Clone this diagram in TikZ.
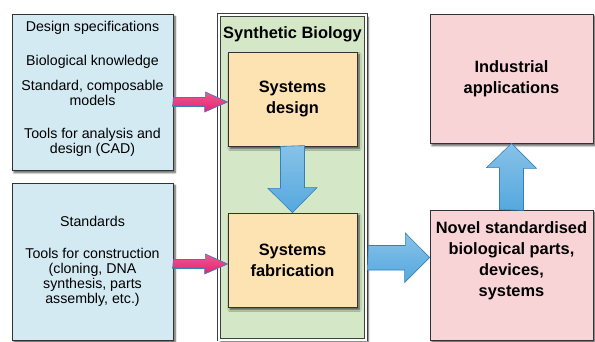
\documentclass[tikz,border=0pt]{standalone}
\usepackage{fontspec}
\setmainfont{Liberation Sans}
\usetikzlibrary{shadows.blur}

\definecolor{boxblue}{RGB}{211,234,243}
\definecolor{boxgreen}{RGB}{212,232,200}
\definecolor{boxyellow}{RGB}{253,226,178}
\definecolor{boxpink}{RGB}{249,212,214}
\definecolor{arrowblue}{RGB}{84,168,222}
\definecolor{arrowedge}{RGB}{52,128,190}
\definecolor{arrowpink}{RGB}{229,34,112}

\begin{document}
\begin{tikzpicture}[x=1pt, y=-1pt,
  every node/.style={font=\fontsize{14.2}{15}\selectfont, align=center, inner sep=0pt},
  box/.style={draw=black!80, line width=0.8pt,
    blur shadow={shadow xshift=2pt, shadow yshift=-2.5pt, shadow blur steps=6, shadow opacity=70}},
  boldtext/.style={font=\fontsize{16.4}{21}\selectfont\bfseries},
  bluearrow/.style={draw=arrowedge, line width=0.6pt, top color=arrowblue!70!white, bottom color=arrowblue},
  pinkarrow/.style={draw=arrowedge, line width=0.6pt, top color=arrowpink!75!white, bottom color=arrowpink}]
\useasboundingbox (0,0) rectangle (595,341);

% inputs on the left
\node (spec) [box, fill=boxblue, minimum width=161, minimum height=156] at (92.5,92) {};
\node (spectxt) at ([yshift=3pt]spec.center)
  {Design specifications\\[19pt]Biological knowledge\\[10pt]Standard, composable\\models\\[18pt]Tools for analysis and\\design (CAD)};
\node (tools) [box, fill=boxblue, minimum width=161, minimum height=157] at (92.5,261.5)
  {Standards\\[17pt]Tools for construction\\(cloning, DNA\\synthesis, parts\\assembly, etc.)};

% synthetic biology frame
\node (synbio) [box, fill=boxgreen, draw=black!75, line width=0.7pt, double=white, double distance=2pt,
  minimum width=147, minimum height=324.5] at (292.5,177.25) {};
\node (title) [boldtext] at (292.5,34) {Synthetic Biology};
\node (design) [box, fill=boxyellow, boldtext, minimum width=129, minimum height=94] at (292.5,99) {Systems\\design};
\node (fab) [box, fill=boxyellow, boldtext, minimum width=129, minimum height=94] at (292.5,260) {Systems\\fabrication};

% outputs on the right
\node (industry) [box, fill=boxpink, boldtext, minimum width=163, minimum height=129] at (511.5,78.5) {Industrial\\applications};
\node (novel) [box, fill=boxpink, minimum width=163, minimum height=130] at (511.5,275) {};
\node (noveltxt) [boldtext] at ([yshift=14pt]novel.center) {Novel standardised\\biological parts,\\devices,\\systems};

% fat arrows
\coordinate (pin1) at ([yshift=-3pt]design.west);
\coordinate (pin2) at ([yshift=-4pt]fab.west);
\coordinate (pout) at ([yshift=2.5pt]fab.east -| novel.west);
\draw[pinkarrow] (spec.east |- pin1) ++(0,-4.5) -- ++(32,0) -- ++(0,-5.5) -- (pin1)
  -- ++(-23,10) -- ++(0,-5.5) -- ++(-32,0) -- cycle;
\draw[pinkarrow] (tools.east |- pin2) ++(0,-4.5) -- ++(32,0) -- ++(0,-5.5) -- (pin2)
  -- ++(-23,10) -- ++(0,-5.5) -- ++(-32,0) -- cycle;
\draw[bluearrow] (design.south) ++(-12,0) -- ++(0,42) -- ++(-12.5,0) -- (fab.north)
  -- ++(24.5,-25) -- ++(-12.5,0) -- ++(0,-42) -- cycle;
\draw[bluearrow] (synbio.east |- pout) ++(2,-12) -- ++(37,0) -- ++(0,-12.5) -- (pout)
  -- ++(-25,25) -- ++(0,-12.5) -- ++(-37,0) -- cycle;
\draw[bluearrow] (novel.north) ++(-12,0) -- ++(0,-42) -- ++(-13,0) -- (industry.south)
  -- ++(25,25) -- ++(-13,0) -- ++(0,42) -- cycle;
\end{tikzpicture}
\end{document}
